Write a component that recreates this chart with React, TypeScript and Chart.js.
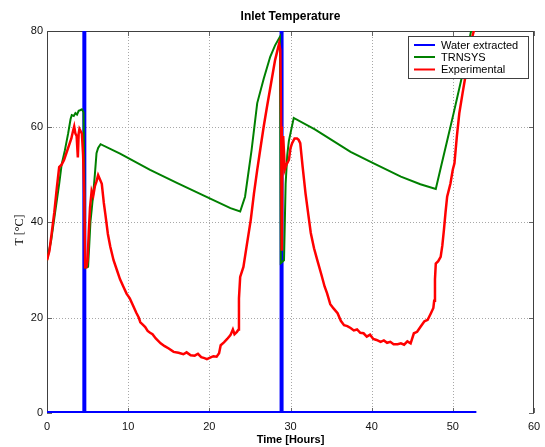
import React, { useEffect, useRef } from "react";
import { Chart, registerables } from "chart.js";

Chart.register(...registerables);

const titleText = "Inlet Temperature";
const xTitle = "Time [Hours]";
const yTitle = "T [°C]";
const seriesNames = ["Water extracted", "TRNSYS", "Experimental"];
const seriesColors = ["#0000ff", "#008000", "#ff0000"];

const xTickValues = [0, 10, 20, 30, 40, 50, 60];
const yTickValues = [0, 20, 40, 60, 80];

const waterHours = [0, 4.6, 4.6, 4.6, 28.9, 28.9, 28.9, 52.9];
const waterValues = [0, 0, 100, 0, 0, 100, 0, 0];

const trnsysHours = [
  0, 0.5, 1.0, 1.5, 1.8, 2.2, 2.6, 2.9, 3.05, 3.3, 3.5, 3.7, 3.9, 4.07, 4.3, 4.5, 4.6, 4.7, 5.06,
  5.2, 5.35, 5.5, 5.7, 5.9, 6.1, 6.3, 6.6, 9, 12.7, 16, 19, 22.6, 23.8, 24.4, 25.2, 25.9, 26.7,
  27.5, 28.1, 28.7, 28.8, 29.2, 29.4, 29.6, 29.8, 30.4, 33, 37.4, 40, 43.6, 46, 47.9, 48.6, 49.3,
  50.1, 51.2, 52.2, 52.9,
];
const trnsysTemp = [
  32, 36, 42, 48, 52, 55, 58.5, 61.5, 62.4, 62.2, 62.8, 62.5, 63.3, 63.4, 63.6, 63, 50, 30.4, 30.6,
  35, 40, 42.5, 46, 50, 54.4, 55.5, 56.3, 54.3, 50.9, 48.2, 45.8, 42.9, 42.2, 45.3, 55, 64.9, 70,
  74.6, 77, 78.8, 31.4, 32, 48, 54, 57, 61.8, 59.4, 54.7, 52.5, 49.5, 47.9, 46.9, 52, 57,
  62.8, 71, 79.6, 84,
];

const expHours = [
  0.0, 0.3, 0.6, 0.9, 1.2, 1.5, 1.8, 2.1, 2.4, 2.7, 3.0, 3.2, 3.35, 3.5, 3.65, 3.8, 3.9, 4.0, 4.15,
  4.3, 4.45, 4.6, 4.7, 4.85, 5.0, 5.15, 5.3, 5.5, 5.7, 5.9, 6.1, 6.3, 6.5, 6.75, 7.0, 7.2, 7.5, 7.8,
  8.2, 8.6, 9.0, 9.4, 9.8, 10.2, 10.6, 11.0, 11.3, 11.5, 11.8, 12.1, 12.4, 12.7, 13.0, 13.4, 14.0,
  14.5, 15.0, 15.6, 16.2, 16.8, 17.2, 17.7, 18.2, 18.6, 19.0, 19.4, 19.7, 20.1, 20.5, 20.9, 21.2,
  21.4, 21.8, 22.2, 22.6, 22.9, 23.1, 23.4, 23.6, 23.65, 23.8, 24.2, 24.6, 25.1, 25.5, 25.9, 26.3,
  26.7, 27.1, 27.6, 28.1, 28.4, 28.6, 28.75, 28.85, 28.9, 28.95, 29.0, 29.1, 29.3, 29.5, 29.8, 30.0,
  30.2, 30.5, 30.8, 31.0, 31.2, 31.5, 31.85, 32.2, 32.5, 32.9, 33.3, 33.8, 34.2, 34.5, 34.9, 35.3,
  35.8, 36.2, 36.6, 37.0, 37.4, 37.8, 38.2, 38.6, 39.0, 39.4, 39.8, 40.2, 40.6, 41.1, 41.5, 41.9,
  42.3, 42.7, 43.2, 43.6, 44.0, 44.4, 44.8, 45.2, 45.6, 46.0, 46.5, 46.9, 47.3, 47.6, 47.7, 47.8,
  47.9, 48.2, 48.5, 48.7, 48.9, 49.1, 49.3, 49.7, 50.0, 50.2, 50.5, 50.8, 51.2, 51.5, 51.8, 52.1,
  52.4, 52.9,
];
const expTemp = [
  32, 34, 38, 42, 47, 51.5, 52, 53, 54.5, 56, 57.5, 59, 60, 58.5, 58, 53.5, 58.5, 59.5, 59,
  58.5, 54, 45, 30.5, 30.5, 32, 38, 43, 46.5, 45.5, 47.5, 48.5, 49.8, 49, 48, 44, 41.5, 37.5, 34.8,
  32, 30, 28, 26.5, 25, 24, 22.5, 21, 20, 19, 18.5, 18, 17.2, 16.8, 16.5, 15.6, 14.6,
  14, 13.5, 12.8, 12.6, 12.3, 12.7, 12.1, 12.0, 12.4, 11.7, 11.5, 11.3, 11.6, 11.9, 11.8, 12.5,
  14.2, 14.8, 15.5, 16.3, 17.5, 16.5, 17, 17.5, 24, 28.5, 30.6, 35, 40.4, 46, 50.9, 55.5,
  60, 64.1, 69, 73.9, 76, 77.4, 76, 60, 40, 34, 56, 58, 51, 52, 53, 55.5,
  56.5, 57.5, 57.5, 57.2, 56.5, 51.5, 46, 41.5, 37.7, 34.5, 32, 29, 26.5, 25.1, 22.8, 21.9,
  20.9, 19.3, 18.4, 18.2, 17.8, 17.3, 17.5, 16.8, 16.7, 16.0, 16.4, 15.5, 15.3, 14.9, 15.2, 14.7,
  14.9, 14.4, 14.4, 14.6, 14.3, 15.0, 14.6, 16.7, 17.0, 18.0, 19.2, 19.5, 20.9, 22, 23.5, 28,
  31.3, 31.8, 32.7, 35, 38.3, 42, 45.3, 48, 51, 52.3, 58, 62.8, 67, 70, 73.2, 76,
  78.8, 82,
];

const toPoints = (xs: number[], ys: number[]) => xs.map((x, i) => ({ x, y: ys[i] }));

const decorPlugin = {
  id: "decor",
  beforeDatasetsDraw(chart: any) {
    const { ctx, chartArea: a, scales } = chart;
    const xs = scales.x;
    const ys = scales.y;
    ctx.save();
    ctx.strokeStyle = "#a8a8a8";
    ctx.lineWidth = 1;
    ctx.setLineDash([1, 2]);
    xTickValues.forEach((v) => {
      if (v <= xs.min || v >= xs.max) return;
      const px = Math.round(xs.getPixelForValue(v)) + 0.5;
      ctx.beginPath();
      ctx.moveTo(px, a.top);
      ctx.lineTo(px, a.bottom);
      ctx.stroke();
    });
    yTickValues.forEach((v) => {
      if (v <= ys.min || v >= ys.max) return;
      const py = Math.round(ys.getPixelForValue(v)) + 0.5;
      ctx.beginPath();
      ctx.moveTo(a.left, py);
      ctx.lineTo(a.right, py);
      ctx.stroke();
    });
    ctx.setLineDash([]);
    ctx.strokeStyle = "#666";
    xTickValues.forEach((v) => {
      const px = Math.round(xs.getPixelForValue(v)) + 0.5;
      ctx.beginPath();
      ctx.moveTo(px, a.bottom);
      ctx.lineTo(px, a.bottom - 5);
      ctx.moveTo(px, a.top);
      ctx.lineTo(px, a.top + 5);
      ctx.stroke();
    });
    yTickValues.forEach((v) => {
      const py = Math.round(ys.getPixelForValue(v)) + 0.5;
      ctx.beginPath();
      ctx.moveTo(a.left, py);
      ctx.lineTo(a.left + 5, py);
      ctx.moveTo(a.right, py);
      ctx.lineTo(a.right - 5, py);
      ctx.stroke();
    });
    ctx.strokeStyle = "#404040";
    const L = Math.round(a.left) + 0.5;
    const R = Math.round(a.right) - 0.5;
    const T = Math.round(a.top) + 0.5;
    const B = Math.round(a.bottom);
    ctx.beginPath();
    ctx.moveTo(L, B);
    ctx.lineTo(L, T);
    ctx.lineTo(R, T);
    ctx.lineTo(R, B);
    ctx.stroke();
    ctx.restore();
  },
  afterDraw(chart: any) {
    const { ctx, chartArea: a } = chart;
    ctx.save();
    const cx = (a.left + a.right) / 2;
    ctx.fillStyle = "#000";
    ctx.textAlign = "center";
    ctx.textBaseline = "middle";
    ctx.font = "bold 12px 'Liberation Sans', Arial, sans-serif";
    ctx.fillText(titleText, cx, 17);
    ctx.font = "bold 11px 'Liberation Sans', Arial, sans-serif";
    ctx.fillText(xTitle, cx, 440);
    ctx.save();
    ctx.translate(20, (a.top + a.bottom) / 2 + 8);
    ctx.rotate(-Math.PI / 2);
    ctx.font = "12px 'Liberation Serif', 'Times New Roman', serif";
    ctx.fillText(yTitle, 0, 0);
    ctx.restore();

    const lx = 408, ly = 36, lw = 120, lh = 42;
    ctx.fillStyle = "#ffffff";
    ctx.fillRect(lx, ly, lw, lh);
    ctx.strokeStyle = "#404040";
    ctx.lineWidth = 1;
    ctx.strokeRect(lx + 0.5, ly + 0.5, lw, lh);
    ctx.font = "11px 'Liberation Sans', Arial, sans-serif";
    ctx.textAlign = "left";
    const rows = [45, 57, 69.5];
    seriesNames.forEach((name, i) => {
      ctx.strokeStyle = seriesColors[i];
      ctx.lineWidth = 2;
      ctx.beginPath();
      ctx.moveTo(414, rows[i]);
      ctx.lineTo(435, rows[i]);
      ctx.stroke();
      ctx.fillStyle = "#000";
      ctx.fillText(name, 441, rows[i] + 0.5);
    });
    ctx.restore();
  },
};

export default function App() {
  const canvasRef = useRef<HTMLCanvasElement | null>(null);

  useEffect(() => {
    if (!canvasRef.current) return;
    const chart = new Chart(canvasRef.current, {
      type: "line",
      data: {
        datasets: [
          {
            label: seriesNames[0],
            data: toPoints(waterHours, waterValues),
            borderColor: seriesColors[0],
            borderWidth: 4,
            pointRadius: 0,
            tension: 0,
            clip: 0,
            order: 3,
          },
          {
            label: seriesNames[1],
            data: toPoints(trnsysHours, trnsysTemp),
            borderColor: seriesColors[1],
            borderWidth: 2,
            pointRadius: 0,
            tension: 0,
            clip: 0,
            order: 2,
          },
          {
            label: seriesNames[2],
            data: toPoints(expHours, expTemp),
            borderColor: seriesColors[2],
            borderWidth: 2.5,
            pointRadius: 0,
            tension: 0,
            clip: 0,
            order: 1,
          },
        ],
      },
      options: {
        animation: false,
        responsive: false,
        devicePixelRatio: 1,
        layout: { padding: { top: 31, right: 11, left: 0, bottom: 0 } },
        plugins: {
          legend: { display: false },
          title: { display: false },
          tooltip: { enabled: false },
        },
        scales: {
          x: {
            type: "linear",
            min: 0,
            max: 60,
            afterFit: (s: any) => {
              s.height = 34;
              s.paddingLeft = 0;
              s.paddingRight = 0;
            },
            afterBuildTicks: (s: any) => {
              s.ticks = xTickValues.map((v) => ({ value: v }));
            },
            grid: { display: false, drawTicks: false },
            border: { display: false },
            ticks: {
              padding: 7,
              color: "#111",
              maxRotation: 0,
              font: { family: "'Liberation Sans', Arial, sans-serif", size: 11 },
            },
          },
          y: {
            type: "linear",
            min: 0,
            max: 80,
            afterFit: (s: any) => {
              s.width = 47;
              s.paddingTop = 0;
              s.paddingBottom = 0;
            },
            afterBuildTicks: (s: any) => {
              s.ticks = yTickValues.map((v) => ({ value: v }));
            },
            grid: { display: false, drawTicks: false },
            border: { display: false },
            ticks: {
              padding: 4,
              color: "#111",
              font: { family: "'Liberation Sans', Arial, sans-serif", size: 11 },
            },
          },
        },
      },
      plugins: [decorPlugin],
    });
    return () => chart.destroy();
  }, []);

  return (
    <div style={{ position: "absolute", left: 0, top: 0, width: 545, height: 447, background: "#fff" }}>
      <canvas ref={canvasRef} width={545} height={447} style={{ display: "block", width: 545, height: 447 }} />
    </div>
  );
}
